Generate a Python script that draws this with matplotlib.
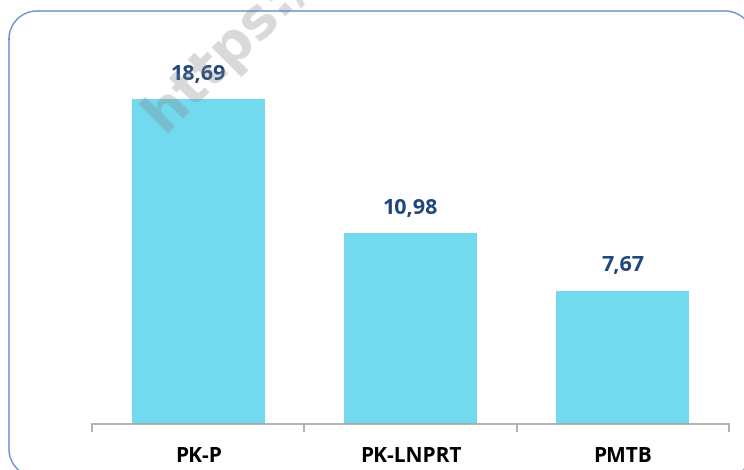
import matplotlib
matplotlib.use("Agg")
import matplotlib.pyplot as plt
from matplotlib.lines import Line2D
import numpy as np

categories = ["PK-P", "PK-LNPRT", "PMTB"]
values = [18.69, 10.98, 7.67]
value_labels = ["18,69", "10,98", "7,67"]

plt.rcParams['font.family'] = ['Open Sans', 'DejaVu Sans']

W, H = 744, 470
fig = plt.figure(figsize=(W/100, H/100), dpi=100)
ax = fig.add_axes([92/W, 46/H, 637/W, 394/H])

x = np.arange(len(categories))
ax.bar(x, values, width=0.627, color="#72D9EF", zorder=2)
ax.set_xlim(-0.5, len(categories) - 0.5)
ax.set_ylim(0, 22.66)

for xi, v, lab in zip(x, values, value_labels):
    ax.annotate(lab, (xi, v), xytext=(0, 18), textcoords="offset points",
                ha="center", va="center", fontsize=15.5, fontweight="bold",
                color="#1F497D", zorder=12)

for s in ["top", "right", "left"]:
    ax.spines[s].set_visible(False)
ax.spines["bottom"].set_color("#A6A6A6")
ax.spines["bottom"].set_linewidth(1.2)
ax.set_yticks([])
ax.set_xticks(x)
ax.set_xticklabels(categories, fontsize=15, fontweight="bold", color="black")
ax.tick_params(axis="x", which="major", length=0, pad=16)
ax.set_xticks(np.arange(len(categories) + 1) - 0.5, minor=True)
ax.tick_params(axis="x", which="minor", length=6, width=1.2, color="#A6A6A6", direction="out")

# rounded outer border, built in pixel units then converted to figure fraction
L, T, R, B, r = 9, 11, 753, 477, 28
pts = []
def arc(cx, cy, a0, a1):
    t = np.linspace(np.radians(a0), np.radians(a1), 30)
    return list(zip(cx + r*np.cos(t), cy - r*np.sin(t)))
pts += arc(L + r, T + r, 180, 90)
pts += arc(R - r, T + r, 90, 0)
pts += arc(R - r, B - r, 0, -90)
pts += arc(L + r, B - r, -90, -180)
pts.append(pts[0])
px = np.array([p[0] for p in pts]) / W
py = 1 - np.array([p[1] for p in pts]) / H
fig.add_artist(Line2D(px, py, transform=fig.transFigure, color="#6E95CF",
                      linewidth=1.1, zorder=5))

# watermark
fig.text(164/W, 1 - 134/H, "https://", rotation=45, fontsize=40,
         fontweight="bold", color="#808080", alpha=0.3, ha="left", va="baseline",
         rotation_mode="anchor", zorder=10, family="DejaVu Sans")

fig.savefig("out.png", dpi=100)
